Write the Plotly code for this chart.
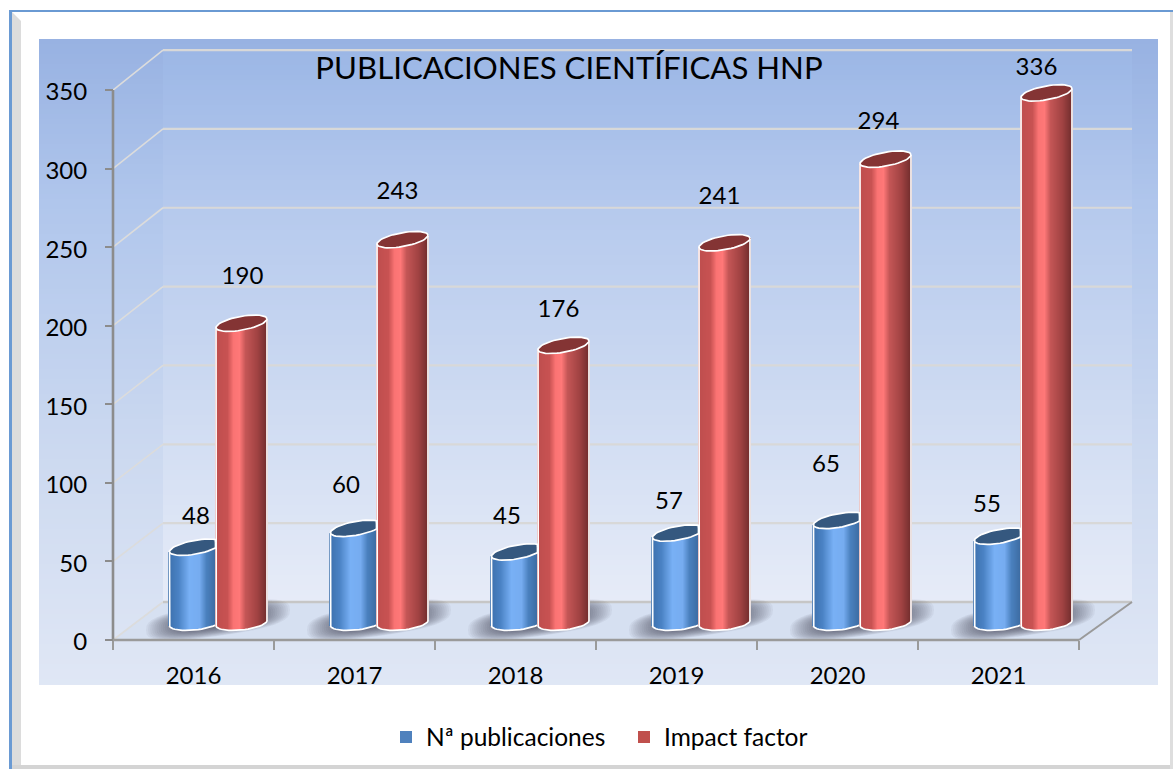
import math
import plotly.graph_objects as go

# ---- data ----
years = ["2016", "2017", "2018", "2019", "2020", "2021"]
publicaciones = [48, 60, 45, 57, 65, 55]
impact_factor = [190, 243, 176, 241, 294, 336]
y_ticks = [0, 50, 100, 150, 200, 250, 300, 350]

# label nudges (px, relative to cylinder top centre)
pub_label_dx = [1, -10, -10, -9, -13, -13]
pub_label_dy = [29, 41, 34, 30, 54, 30]
imp_label_dx = [1, -5, -5, -5, -7, -10]
imp_label_dy = [45, 47, 34, 45, 36, 24]

W, H = 1173, 769
X0, Y0 = 113, 640      # front axis origin (px)
CAT = 161.0            # px per category
PXU = 550 / 350        # px per value unit
FONT = "Lato"

def X(px): return (px - X0) / CAT
def Y(py): return (Y0 - py) / PXU

def lerp_stops(stops, t):
    for (t0, c0), (t1, c1) in zip(stops, stops[1:]):
        if t <= t1:
            f = (t - t0) / (t1 - t0) if t1 > t0 else 0
            return tuple(c0[k] + (c1[k] - c0[k]) * f for k in range(3))
    return stops[-1][1]

def rgb(c): return "rgb(%d,%d,%d)" % tuple(round(v) for v in c)

shapes = []
def rect(x0, y0, x1, y1, color, layer="below"):
    shapes.append(dict(type="rect", xref="x", yref="y", x0=X(x0), x1=X(x1), y0=Y(y0), y1=Y(y1),
                       fillcolor=color, line=dict(width=0), layer=layer))
def line(x0, y0, x1, y1, color, width, layer="below"):
    shapes.append(dict(type="line", xref="x", yref="y", x0=X(x0), x1=X(x1), y0=Y(y0), y1=Y(y1),
                       line=dict(color=color, width=width), layer=layer))
def poly(pts, color, opacity=1.0):
    d = "M " + " L ".join("%.4f,%.4f" % (X(a), Y(b)) for a, b in pts) + " Z"
    shapes.append(dict(type="path", xref="x", yref="y", path=d, fillcolor=color, opacity=opacity,
                       line=dict(width=0), layer="below"))

# ---- frame ----
rect(10, 10, 1173, 769, "#ffffff")
rect(9, 10, 1173, 12, "#6a9ad3")
rect(9, 10, 12, 769, "#6a9ad3")
poly([(12, 12), (21, 21), (21, 769), (12, 769)], "#dcdcdc")
rect(12, 765, 1173, 769, "#d4d4d4")
rect(1170, 12, 1173, 769, "#dedede")

# ---- background gradient ----
bg = [(39, (152, 178, 226)), (200, (176, 198, 236)), (450, (204, 217, 240)), (685, (224, 231, 245))]
for y in range(39, 685, 5):
    rect(39, y, 1158, min(y + 5.5, 685), rgb(lerp_stops(bg, y)))
wall = [(50, (156, 183, 230)), (200, (181, 201, 237)), (450, (212, 223, 243)), (603, (231, 236, 248))]
for y in range(50, 603, 5):
    rect(163, y, 1132, min(y + 5.5, 603), rgb(lerp_stops(wall, y)))
poly([(X0, Y0), (X0 + 966, Y0), (1132, 602), (163, 602)], "#d6e0f1")

# ---- grid ----
for v in y_ticks:
    yb = 602 - v * 1.577
    yf = Y0 - v * PXU
    if v > 0:
        line(163, yb, 1132, yb, "#d8d8d8", 2.2)
    line(X0, yf, 163, yb, "#dcdcdc", 1.6)
line(163, 602, 1132, 602, "#c6c6c6", 2.4)

# ---- floor shadows ----
for i in range(len(years)):
    cx, cy = 218 + CAT * i, 620
    n = 22
    for k in range(n):
        f = 1 - k / n
        a, b = 46 * f + 26, 12 * f + 4
        pts = []
        for j in range(40):
            t = 2 * math.pi * j / 40
            c, s = math.cos(t), math.sin(t)
            ex = abs(c) ** 0.7 * (1 if c >= 0 else -1)
            ey = abs(s) ** 0.7 * (1 if s >= 0 else -1)
            pts.append((cx + a * ex, cy - 0.14 * a * ex - b * ey))
        poly(pts, "#3b3f4a", 0.055)

# ---- axes lines ----
line(X0, 90, X0, Y0, "#8c8c8c", 2.6, "above")
line(X0, Y0, X0 + 966, Y0, "#9a9a9a", 2.6, "above")
line(X0 + 966, Y0, 1132, 602, "#9a9a9a", 2, "above")

# ---- cylinders ----
A, B = 25.5, 7.0
S_BOT, S_TOP = 0.10, 0.17
BASE_UP = 17.0
VAL_K = 1.004

blue_stops = [(0, (60, 112, 172)), (10, (74, 130, 196)), (21, (120, 176, 245)), (31, (118, 172, 240)),
              (38, (74, 128, 190)), (46, (62, 110, 165)), (51, (55, 95, 145))]
red_stops = [(0, (190, 78, 78)), (12, (200, 82, 82)), (18, (250, 115, 115)), (24, (255, 120, 120)),
             (30, (196, 86, 86)), (42, (160, 66, 66)), (51, (115, 46, 46))]

def cylinder_traces(values, left0, stops, cap_color, clip_u=None):
    """clip_u: local x beyond which the cylinder is hidden by its neighbour."""
    lim = A if clip_u is None else clip_u
    xs, bases, heights, cols = [], [], [], []
    cap_x, cap_y, out_x, out_y = [], [], [], []
    for i, v in enumerate(values):
        cx = left0 + A + CAT * i
        top_up = BASE_UP + v * VAL_K * PXU
        u = -A
        while u <= lim:
            r = math.sqrt(max(0, 1 - (u / A) ** 2))
            bot = BASE_UP + S_BOT * u - B * r
            top = top_up + S_TOP * u - B * r
            xs.append(X(cx + u)); bases.append(bot / PXU); heights.append((top - bot) / PXU)
            cols.append(rgb(lerp_stops(stops, u + A)))
            u += 1.0
        for j in range(49):
            t = 2 * math.pi * j / 48
            cap_x.append(X(cx + min(A * math.cos(t), lim)))
            cap_y.append((top_up + S_TOP * A * math.cos(t) + B * math.sin(t)) / PXU)
        cap_x.append(None); cap_y.append(None)
        # left edge, bottom curve, right edge
        out_x.append(X(cx - A)); out_y.append((top_up - S_TOP * A) / PXU)
        for j in range(25):
            t = math.pi + math.pi * j / 24
            if A * math.cos(t) > lim:
                break
            out_x.append(X(cx + A * math.cos(t)))
            out_y.append((BASE_UP + S_BOT * A * math.cos(t) + B * math.sin(t)) / PXU)
        if clip_u is None:
            out_x.append(X(cx + A)); out_y.append((top_up + S_TOP * A) / PXU)
        out_x.append(None); out_y.append(None)
    return [
        go.Bar(x=xs, y=heights, base=bases, width=[1.6 / CAT] * len(xs), marker=dict(color=cols, line=dict(width=0)),
               showlegend=False, hoverinfo="skip"),
        go.Scatter(x=out_x, y=out_y, mode="lines", line=dict(color="white", width=1.7), showlegend=False, hoverinfo="skip"),
        go.Scatter(x=cap_x, y=cap_y, mode="lines", fill="toself", fillcolor=cap_color,
                   line=dict(color="white", width=1.7), showlegend=False, hoverinfo="skip"),
    ]

fig = go.Figure()
for tr in cylinder_traces(publicaciones, 169.5, blue_stops, "#35587f", clip_u=20.5):
    fig.add_trace(tr)
for tr in cylinder_traces(impact_factor, 216, red_stops, "#843434"):
    fig.add_trace(tr)

# ---- data labels ----
def labels(values, left0, dxs, dys):
    xx, yy = [], []
    for i, v in enumerate(values):
        cx = left0 + A + CAT * i
        top_py = Y0 - (BASE_UP + v * VAL_K * PXU)
        xx.append(X(cx + dxs[i])); yy.append(Y(top_py - dys[i]))
    return go.Scatter(x=xx, y=yy, mode="text", text=[str(v) for v in values], textposition="middle center",
                      textfont=dict(family=FONT, size=24, color="black"), showlegend=False, hoverinfo="skip")
fig.add_trace(labels(publicaciones, 169.5, pub_label_dx, pub_label_dy))
fig.add_trace(labels(impact_factor, 216, imp_label_dx, imp_label_dy))

# ---- legend entries ----
fig.add_trace(go.Scatter(x=[None], y=[None], mode="markers", name="Nª publicaciones",
                         marker=dict(symbol="square", size=13, color="#4f81bd")))
fig.add_trace(go.Scatter(x=[None], y=[None], mode="markers", name="Impact factor",
                         marker=dict(symbol="square", size=13, color="#c0504d")))

fig.update_layout(
    width=W, height=H, margin=dict(l=0, r=0, t=0, b=0), autosize=False,
    paper_bgcolor="white", plot_bgcolor="white", barmode="overlay", bargap=0,
    font=dict(family=FONT, size=24, color="black"),
    shapes=shapes,
    title=dict(text="PUBLICACIONES CIENTÍFICAS HNP", x=569 / W, xanchor="center", y=1 - 68 / H, yanchor="middle",
               font=dict(family=FONT, size=31.2, color="black")),
    xaxis=dict(range=[X(0), X(W)], domain=[0, 1], anchor="free", position=(H - Y0) / H, showgrid=False, zeroline=False,
               showline=False, tickmode="array", tickvals=[i + 0.5 for i in range(6)], ticktext=years, ticks="",
               ticklabelstandoff=19, tickfont=dict(family=FONT, size=24),
               minor=dict(tickmode="array", tickvals=list(range(7)), ticks="outside", ticklen=9, tickwidth=2, tickcolor="#9a9a9a"),
               fixedrange=True),
    yaxis=dict(range=[Y(H), Y(0)], domain=[0, 1], anchor="free", position=X0 / W, showgrid=False, zeroline=False,
               showline=False, tickmode="array", tickvals=y_ticks, ticks="outside", ticklen=8, tickwidth=2, tickcolor="#8c8c8c",
               ticklabelstandoff=13, ticklabelshift=2, tickfont=dict(family=FONT, size=24), fixedrange=True),
    legend=dict(orientation="h", x=386 / W, xanchor="left", y=1 - 737 / H, yanchor="middle", bgcolor="rgba(0,0,0,0)",
                font=dict(family=FONT, size=24.5), itemsizing="constant", entrywidth=193, entrywidthmode="pixels"),
)

fig.write_html("out.html", post_script="document.body.style.margin='0';document.body.style.overflow='hidden';",
               config={"displayModeBar": False})
